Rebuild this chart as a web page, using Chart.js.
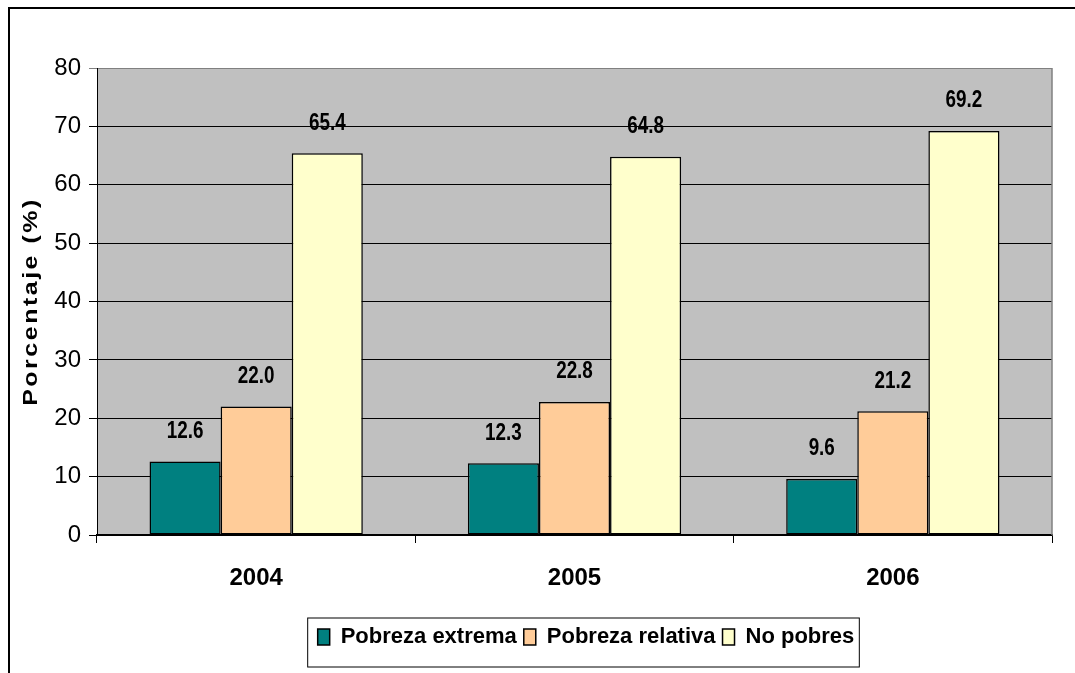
<!DOCTYPE html>
<html>
<head>
<meta charset="utf-8">
<script src="https://cdn.jsdelivr.net/npm/chart.js@4"></script>
<style>
  html, body { margin: 0; padding: 0; background: #fff; overflow: hidden; }
  canvas { display: block; }
</style>
</head>
<body>
<canvas id="myChart" width="1075" height="673"></canvas>
<script>
const years = ['2004', '2005', '2006'];
const pobrezaExtrema = [12.6, 12.3, 9.6];
const pobrezaRelativa = [22.0, 22.8, 21.2];
const noPobres = [65.4, 64.8, 69.2];
const yTitle = 'Porcentaje (%)';

const FONT = "'Liberation Sans', Arial, sans-serif";
const LEGEND_PAD = 7;

// white page, frame, grey plot area
const backdrop = {
    id: 'backdrop',
    beforeDraw(chart) {
        const { ctx, chartArea: a } = chart;
        ctx.save();
        ctx.fillStyle = '#fff';
        ctx.fillRect(0, 0, chart.width, chart.height);
        ctx.strokeStyle = '#000';
        ctx.lineWidth = 2;
        ctx.strokeRect(9, 8, 1200, 800);
        ctx.fillStyle = '#c0c0c0';
        ctx.fillRect(a.left, a.top, a.right - a.left, a.bottom - a.top);
        ctx.restore();
    },
    afterDraw(chart) {
        const { ctx, chartArea: a } = chart;
        ctx.save();
        // right border of plot area
        ctx.strokeStyle = '#808080';
        ctx.lineWidth = 1.5;
        ctx.beginPath();
        ctx.moveTo(a.right, a.top);
        ctx.lineTo(a.right, a.bottom);
        ctx.stroke();

        // y title, bold, stretched and spaced
        ctx.translate(31, (a.top + a.bottom) / 2);
        ctx.rotate(-Math.PI / 2);
        ctx.scale(1.25, 1);
        ctx.font = 'bold 20px ' + FONT;
        ctx.letterSpacing = '2px';
        ctx.fillStyle = '#000';
        ctx.textAlign = 'center';
        ctx.textBaseline = 'middle';
        ctx.fillText(yTitle, 0, 0);
        ctx.restore();

        // legend frame
        const lg = chart.legend;
        const hb = lg.legendHitBoxes;
        if (hb && hb.length) {
            const last = hb[hb.length - 1];
            const cy = hb[0].top + hb[0].height / 2;
            ctx.save();
            ctx.strokeStyle = '#000';
            ctx.lineWidth = 1;
            ctx.strokeRect(hb[0].left - 10, cy - 19, last.left + last.width - hb[0].left + 15, 49);
            ctx.restore();
        }
    }
};

// value labels above bars (condensed look)
const valueLabels = {
    id: 'valueLabels',
    afterDatasetsDraw(chart) {
        const { ctx } = chart;
        chart.data.datasets.forEach((ds, i) => {
            chart.getDatasetMeta(i).data.forEach((el, j) => {
                ctx.save();
                ctx.translate(el.x, el.y - 30);
                ctx.scale(0.82, 1);
                ctx.font = 'bold 23px ' + FONT;
                ctx.fillStyle = '#000';
                ctx.textAlign = 'center';
                ctx.textBaseline = 'middle';
                ctx.fillText(ds.data[j].toFixed(1), 0, 0);
                ctx.restore();
            });
        });
    }
};

// move the legend where the original has it
const legendPlace = {
    id: 'legendPlace',
    afterLayout(chart) {
        const lg = chart.legend;
        const dx = 586 - (lg.left + lg.right) / 2;
        lg.left += dx;
        lg.right += dx;
        const dy = (637 - LEGEND_PAD - 11) - lg.top;
        lg.top += dy;
        lg.bottom += dy;
    }
};

const ctx = document.getElementById('myChart');

new Chart(ctx, {
    type: 'bar',
    data: {
        labels: years,
        datasets: [{
            label: 'Pobreza extrema',
            data: pobrezaExtrema,
            backgroundColor: '#008080',
        }, {
            label: 'Pobreza relativa',
            data: pobrezaRelativa,
            backgroundColor: '#ffcc99',
        }, {
            label: 'No pobres',
            data: noPobres,
            backgroundColor: '#ffffcc',
        }]
    },
    options: {
        responsive: false,
        animation: false,
        devicePixelRatio: 1,
        layout: {
            padding: { top: 68, right: 23, left: 0, bottom: 0 }
        },
        datasets: {
            bar: {
                borderColor: '#000',
                borderWidth: 1.5,
                borderSkipped: false,
                categoryPercentage: 0.67,
                barPercentage: 1.0,
            }
        },
        plugins: {
            legend: {
                position: 'bottom',
                labels: {
                    color: '#000',
                    font: { family: FONT, size: 22, weight: 'bold' },
                    boxWidth: 12,
                    boxHeight: 16,
                    padding: LEGEND_PAD,
                }
            },
            tooltip: { enabled: false }
        },
        scales: {
            x: {
                grid: {
                    drawOnChartArea: false,
                    drawTicks: true,
                    tickLength: 8,
                    color: '#000',
                },
                border: { color: '#000', width: 1.5 },
                ticks: {
                    color: '#000',
                    padding: 21,
                    font: { family: FONT, size: 24, weight: 'bold' },
                },
                afterFit(scale) {
                    const lgH = scale.chart.legend ? scale.chart.legend.height : 0;
                    scale.height = scale.chart.height - 535 - lgH;
                }
            },
            y: {
                min: 0,
                max: 80,
                ticks: {
                    stepSize: 10,
                    color: '#000',
                    padding: 8,
                    font: { family: FONT, size: 24 },
                },
                grid: {
                    color: (c) => c.tick && c.tick.value === 80 ? '#808080' : '#000',
                    lineWidth: 1,
                    tickLength: 8,
                },
                border: { color: '#000', width: 1 },
                afterFit(scale) {
                    scale.width = 97;
                }
            }
        }
    },
    plugins: [backdrop, valueLabels, legendPlace]
});
</script>
</body>
</html>
